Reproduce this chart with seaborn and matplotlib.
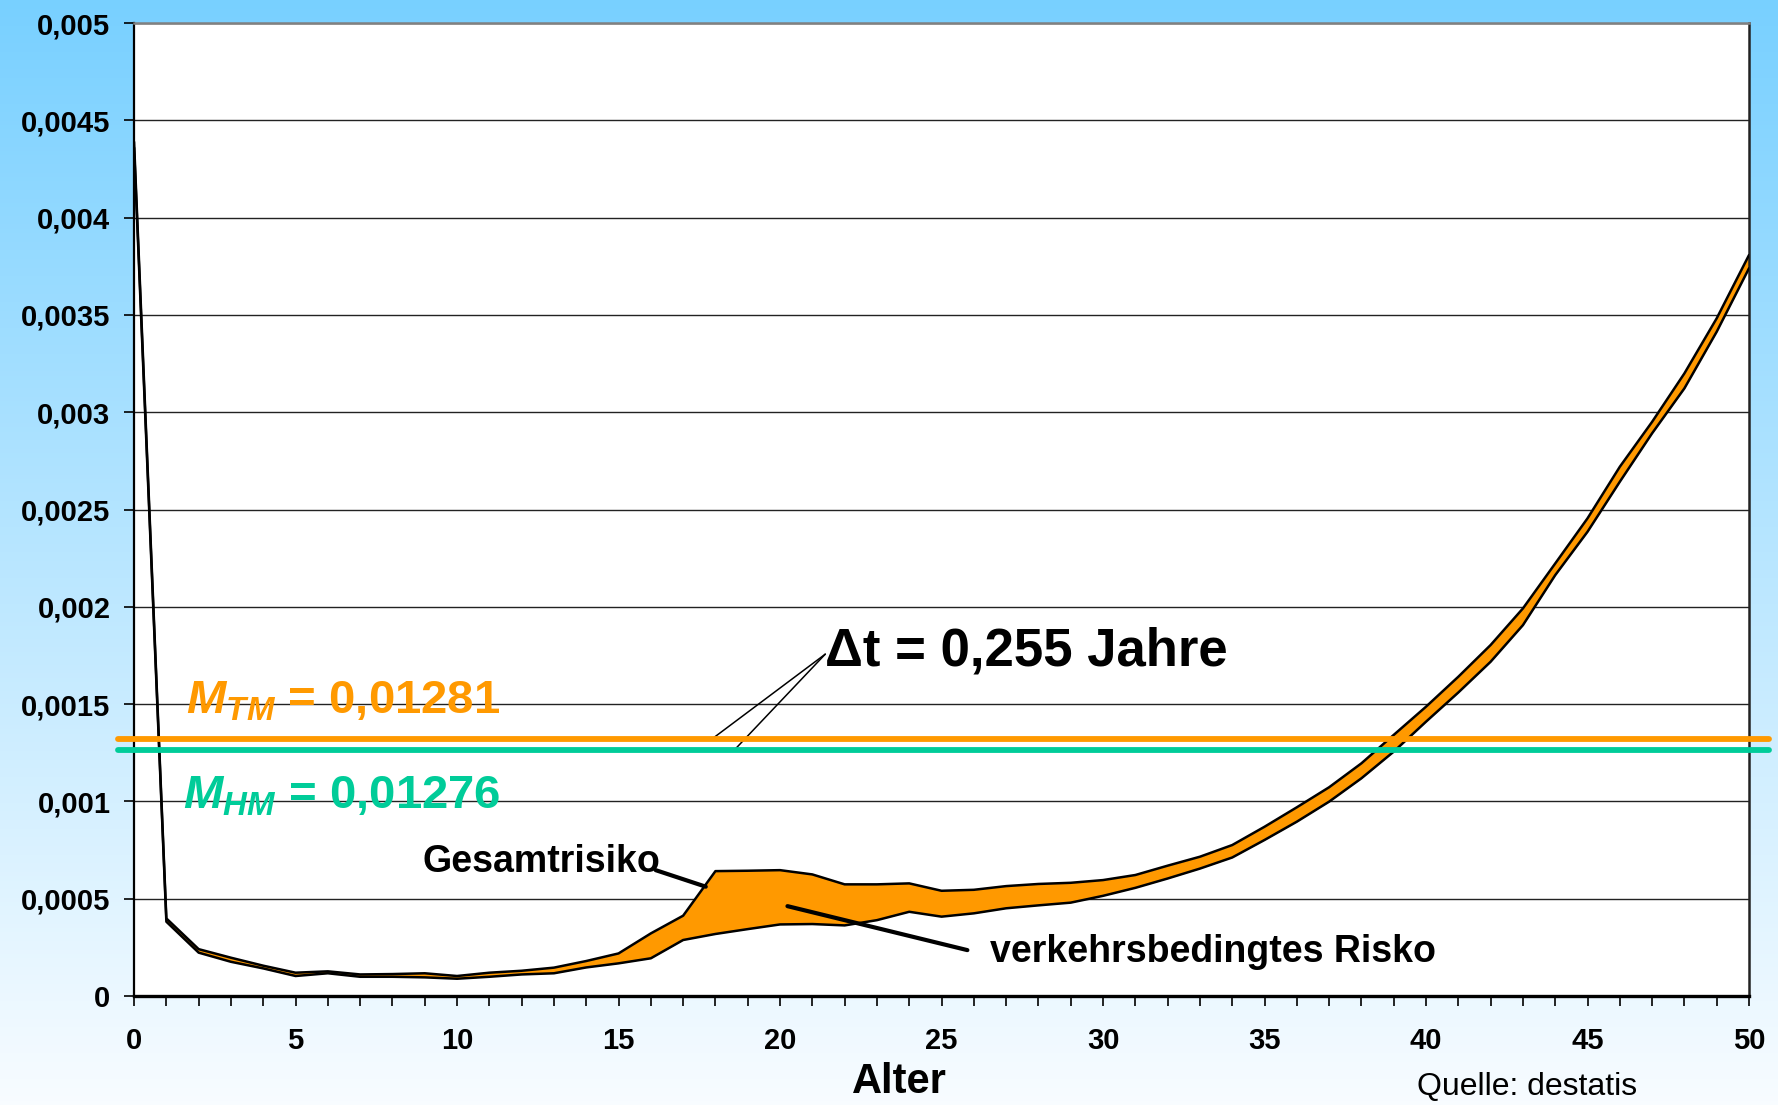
import numpy as np
import seaborn as sns
import matplotlib.pyplot as plt

# Sterberisiko je Altersjahr
alter = list(range(51))
gesamtrisiko = [0.00439, 0.000399, 0.000241, 0.000197, 0.000156, 0.000120, 0.000127, 0.000111,
                0.000113, 0.000117, 0.000103, 0.000120, 0.000130, 0.000146, 0.000180, 0.000219,
                0.000322, 0.000413, 0.000642, 0.000644, 0.000647, 0.000625, 0.000574, 0.000574,
                0.000579, 0.000541, 0.000546, 0.000565, 0.000576, 0.000582, 0.000596, 0.000622,
                0.000670, 0.000716, 0.000776, 0.000870, 0.000970, 0.001073, 0.001196, 0.001342,
                0.001487, 0.001641, 0.001804, 0.001992, 0.002223, 0.002455, 0.002720, 0.002951,
                0.003200, 0.003483, 0.003808]
ohne_verkehr = [0.00436, 0.000382, 0.000223, 0.000176, 0.000142, 0.000103, 0.000117, 0.000099,
                0.000099, 0.000096, 0.000089, 0.000099, 0.000111, 0.000117, 0.000147, 0.000168,
                0.000194, 0.000288, 0.000319, 0.000344, 0.000368, 0.000370, 0.000363, 0.000390,
                0.000433, 0.000408, 0.000425, 0.000451, 0.000466, 0.000480, 0.000515, 0.000556,
                0.000604, 0.000655, 0.000712, 0.000802, 0.000896, 0.000999, 0.001119, 0.001256,
                0.001410, 0.001560, 0.001718, 0.001906, 0.002163, 0.002386, 0.002643, 0.002892,
                0.003123, 0.003414, 0.003740]

# Mittelwerte als waagerechte Linien
m_tm = 0.001322
m_hm = 0.001267

y_ticks = [0, 0.0005, 0.001, 0.0015, 0.002, 0.0025, 0.003, 0.0035, 0.004, 0.0045, 0.005]
y_labels = ['0', '0,0005', '0,001', '0,0015', '0,002', '0,0025', '0,003', '0,0035', '0,004', '0,0045', '0,005']
x_labels = [str(a) if a % 5 == 0 else '' for a in alter]

orange = '#FF9900'
gruen = '#00CC99'

sns.set_style('white')
plt.rcParams['font.family'] = ['Liberation Sans', 'DejaVu Sans']
plt.rcParams['text.color'] = 'black'
plt.rcParams['axes.labelcolor'] = 'black'
plt.rcParams['xtick.color'] = 'black'
plt.rcParams['ytick.color'] = 'black'
plt.rcParams['mathtext.fontset'] = 'custom'
plt.rcParams['mathtext.rm'] = 'Liberation Sans'
plt.rcParams['mathtext.bf'] = 'Liberation Sans:bold'
plt.rcParams['mathtext.bfit'] = 'Liberation Sans:italic:bold'

fig = plt.figure(figsize=(17.78, 11.05), dpi=100)

# Hintergrund mit Farbverlauf
bg = fig.add_axes([0, 0, 1, 1], zorder=-10)
oben = np.array([120, 208, 255]) / 255
unten = np.array([248, 252, 255]) / 255
t = np.linspace(0, 1, 256)[:, None]
verlauf = (oben * (1 - t) + unten * t)[:, None, :]
bg.imshow(verlauf, aspect='auto', extent=[0, 1, 0, 1])
bg.axis('off')

ax = fig.add_axes([0.0754, 0.0986, 0.9083, 0.8805])
ax.set_facecolor('white')

ax.fill_between(alter, ohne_verkehr, gesamtrisiko, color=orange, lw=0, zorder=2)
sns.lineplot(x=alter, y=gesamtrisiko, color='black', lw=1.8, ax=ax, zorder=3)
sns.lineplot(x=alter, y=ohne_verkehr, color='black', lw=1.8, ax=ax, zorder=3)

ax.axhline(m_tm, xmin=-0.0099, xmax=1.0124, color=orange, lw=4.2, clip_on=False, zorder=4)
ax.axhline(m_hm, xmin=-0.0099, xmax=1.0124, color=gruen, lw=4.2, clip_on=False, zorder=4)

ax.set_xlim(0, 50)
ax.set_ylim(0, 0.005)
ax.set_xticks(alter)
ax.set_xticklabels(x_labels)
ax.set_yticks(y_ticks)
ax.set_yticklabels(y_labels)
ax.tick_params(axis='both', direction='out', length=7, width=1.2, color='black',
               labelsize=21, bottom=True, left=True)
ax.tick_params(axis='x', pad=15)
ax.tick_params(axis='y', pad=10)
for lab in ax.get_xticklabels() + ax.get_yticklabels():
    lab.set_fontweight('bold')

ax.yaxis.grid(True, color='#222222', lw=1)
ax.set_axisbelow(True)
ax.spines['left'].set_color('black')
ax.spines['left'].set_linewidth(1.6)
ax.spines['bottom'].set_color('black')
ax.spines['bottom'].set_linewidth(2.4)
ax.spines['top'].set_color('#808080')
ax.spines['top'].set_linewidth(1.8)
ax.spines['right'].set_color('#222222')
ax.spines['right'].set_linewidth(1.8)

ax.set_xlabel('Alter', fontsize=30, fontweight='bold')
ax.xaxis.set_label_coords(0.474, -0.068)
ax.set_ylabel('')

# Beschriftungen
ax.text(1.62, 0.001454, r'$\mathbfit{M}_{\mathbfit{TM}}$' + ' = 0,01281', color=orange,
        fontsize=34, fontweight='bold', va='baseline', ha='left')
ax.text(1.5, 0.000966, r'$\mathbfit{M}_{\mathbfit{HM}}$' + ' = 0,01276', color=gruen,
        fontsize=34, fontweight='bold', va='baseline', ha='left')
ax.text(21.38, 0.0017, 'Δt = 0,255 Jahre', fontsize=38, fontweight='bold', va='baseline', ha='left')
ax.annotate('', xy=(17.9, m_tm), xytext=(21.4, 0.001757),
            arrowprops=dict(arrowstyle='-', color='black', lw=1.1, shrinkA=0, shrinkB=0))
ax.annotate('', xy=(18.6, m_hm), xytext=(21.4, 0.001757),
            arrowprops=dict(arrowstyle='-', color='black', lw=1.1, shrinkA=0, shrinkB=0))

ax.text(8.93, 0.000639, 'Gesamtrisiko', fontsize=27, fontweight='bold', va='baseline', ha='left')
ax.annotate('', xy=(17.7, 0.000562), xytext=(16.15, 0.000647),
            arrowprops=dict(arrowstyle='-', color='black', lw=3, shrinkA=0, shrinkB=0))
ax.text(26.5, 0.000177, 'verkehrsbedingtes Risko', fontsize=27, fontweight='bold',
        va='baseline', ha='left')
ax.annotate('', xy=(25.8, 0.000236), xytext=(20.23, 0.000462),
            arrowprops=dict(arrowstyle='-', color='black', lw=3, shrinkA=0, shrinkB=0), zorder=5)

fig.text(0.797, 0.009, 'Quelle: destatis', fontsize=23, va='baseline', ha='left')

plt.savefig('out.png', dpi=100)
